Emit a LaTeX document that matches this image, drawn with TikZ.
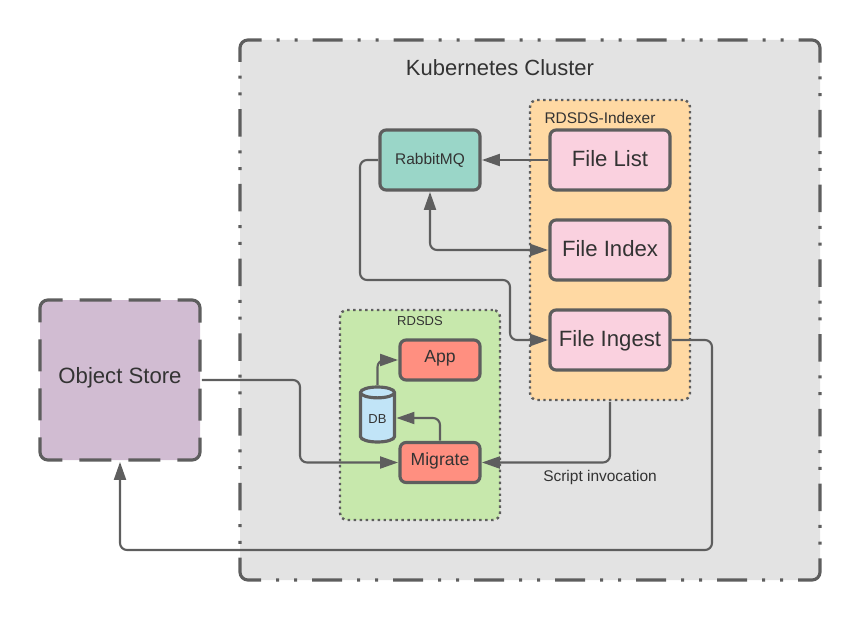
\documentclass[tikz,border=0pt]{standalone}
\usepackage{fontspec}
\setmainfont{Liberation Sans}
\usepackage{xcolor}
\usetikzlibrary{shapes.geometric, arrows.meta, positioning}
\definecolor{linegray}{RGB}{94,94,94}
\definecolor{textgray}{RGB}{51,51,51}
\definecolor{clustergray}{RGB}{227,227,227}
\definecolor{storepurple}{RGB}{209,188,210}
\definecolor{indexorange}{RGB}{255,217,163}
\definecolor{jobpink}{RGB}{250,209,223}
\definecolor{mqteal}{RGB}{154,214,200}
\definecolor{appgreen}{RGB}{199,232,172}
\definecolor{appred}{RGB}{255,143,128}
\definecolor{dbblue}{RGB}{193,228,247}
% border dashes of the cluster, one run per side
\def\vgroup{off .275cm on .06cm off .275cm on .06cm off .275cm }
\def\hgroup{off .3cm on .06cm off .3cm on .06cm off .3cm }
\def\vdash{on .55cm }
\def\hdash{on .6cm }
\def\vrun{\vgroup\vdash\vgroup\vdash\vgroup\vdash\vgroup\vdash\vgroup\vdash\vgroup\vdash\vgroup}
\def\hrun{\hgroup\hdash\hgroup\hdash\hgroup\hdash\hgroup\hdash\hgroup\hdash\hgroup\hdash\hgroup}

\begin{document}
\begin{tikzpicture}[
    every node/.style={text=textgray, outer sep=0pt},
    zone/.style={rectangle, draw=linegray, rounded corners=4.5pt, line width=1.8pt, inner sep=0pt},
    groupbox/.style={rectangle, draw=linegray, rounded corners=4pt, line width=1.4pt, inner sep=0pt, dash pattern=on 1.4pt off 2pt},
    job/.style={rectangle, draw=linegray, fill=jobpink, rounded corners=3.5pt, line width=1.8pt, minimum width=2.4cm, minimum height=1.2cm, text height=.32cm, text depth=.08cm, font=\fontsize{12.6}{15}\selectfont},
    svc/.style={rectangle, draw=linegray, fill=appred, rounded corners=3.5pt, line width=1.8pt, minimum width=1.6cm, minimum height=.8cm, text height=.24cm, text depth=.14cm, font=\fontsize{10}{12}\selectfont},
    arr/.style={-{Triangle[length=.36cm,width=.24cm]}, line width=1.2pt, linegray, rounded corners=4pt, shorten <=1pt, shorten >=1.1pt},
    darr/.style={{Triangle[length=.36cm,width=.24cm]}-{Triangle[length=.36cm,width=.24cm]}, line width=1.2pt, linegray, rounded corners=4pt, shorten <=1.1pt, shorten >=1.1pt},
    lbl/.style={font=\fontsize{8.8}{11}\selectfont}
]
\useasboundingbox (0,0) rectangle (17.2,12.4);

% containers
\node[zone, fill=clustergray, minimum width=11.6cm, minimum height=10.8cm, dash pattern/.expanded={on .8cm \hrun on .80cm \vrun on .80cm \hrun on .80cm \vrun}, dash phase=.53cm] (cluster) at (10.6,6.2) {};
\node[zone, fill=storepurple, minimum width=3.2cm, minimum height=3.2cm, text height=.32cm, text depth=.19cm, font=\fontsize{12.6}{15}\selectfont, dash pattern=on .83cm off .34cm on .64cm off .34cm on .64cm off .34cm, dash phase=.54cm] (store) at (2.4,4.8) {Object Store};
\node[groupbox, fill=indexorange, minimum width=3.2cm, minimum height=6cm] (indexer) at (12.2,7.4) {};
\node[groupbox, fill=appgreen, minimum width=3.2cm, minimum height=4.2cm] (rdsds) at (8.4,4.1) {};

\node[font=\fontsize{12.5}{15}\selectfont] (clustertitle) at (10,11.04) {Kubernetes Cluster};
\node[lbl] (indexertitle) at (12,10.04) {RDSDS-Indexer};
\node[font=\fontsize{7.4}{9}\selectfont] (rdsdstitle) at (8.4,5.98) {RDSDS};

% indexer jobs
\node[job] (filelist) at (12.2,9.2) {File List};
\node[job] (fileindex) at (12.2,7.4) {File Index};
\node[job] (fileingest) at (12.2,5.6) {File Ingest};
\node[job, fill=mqteal, minimum width=2cm, text height=.22cm, text depth=.06cm, font=\fontsize{8.8}{10}\selectfont] (rabbit) at (8.6,9.2) {RabbitMQ};

% app parts
\node[svc] (app) at (8.8,5.2) {App};
\node[svc] (migrate) at (8.8,3.15) {Migrate};
\node[cylinder, draw=linegray, line width=1.8pt, shape border rotate=90, aspect=.6, minimum width=.68cm, minimum height=1.1cm, inner sep=0pt, text height=.2cm, text depth=0cm, cylinder uses custom fill, cylinder body fill=dbblue, cylinder end fill=dbblue, font=\fontsize{7.4}{9}\selectfont] (db) at (7.55,4.04) {DB};

\node[lbl] (script) at (12,2.85) {Script invocation};

% bends
\coordinate (mqleft) at (7.2,9.2);
\coordinate (mqlow) at (10.2,6.8);
\coordinate (ingestright) at (14.24,5.6);
\coordinate (floor) at (14.24,1.4);
\coordinate (storeright) at (6,4.8);

\draw[arr] (filelist.west) -- (rabbit.east);
\draw[darr] (rabbit.south) |- (fileindex.west);
\draw[arr] (rabbit.west) -- (mqleft) |- (mqlow) |- (fileingest.west);
\draw[arr] (fileingest.east) -- (ingestright) -- (floor) -| (store.south);
\draw[arr] (store.east) -- (storeright) |- (migrate.west);
\draw[arr] (indexer.south) |- (migrate.east);
\draw[arr] (migrate.north) |- (db.east);
\draw[arr] (db.north) |- (app.west);
\end{tikzpicture}
\end{document}
